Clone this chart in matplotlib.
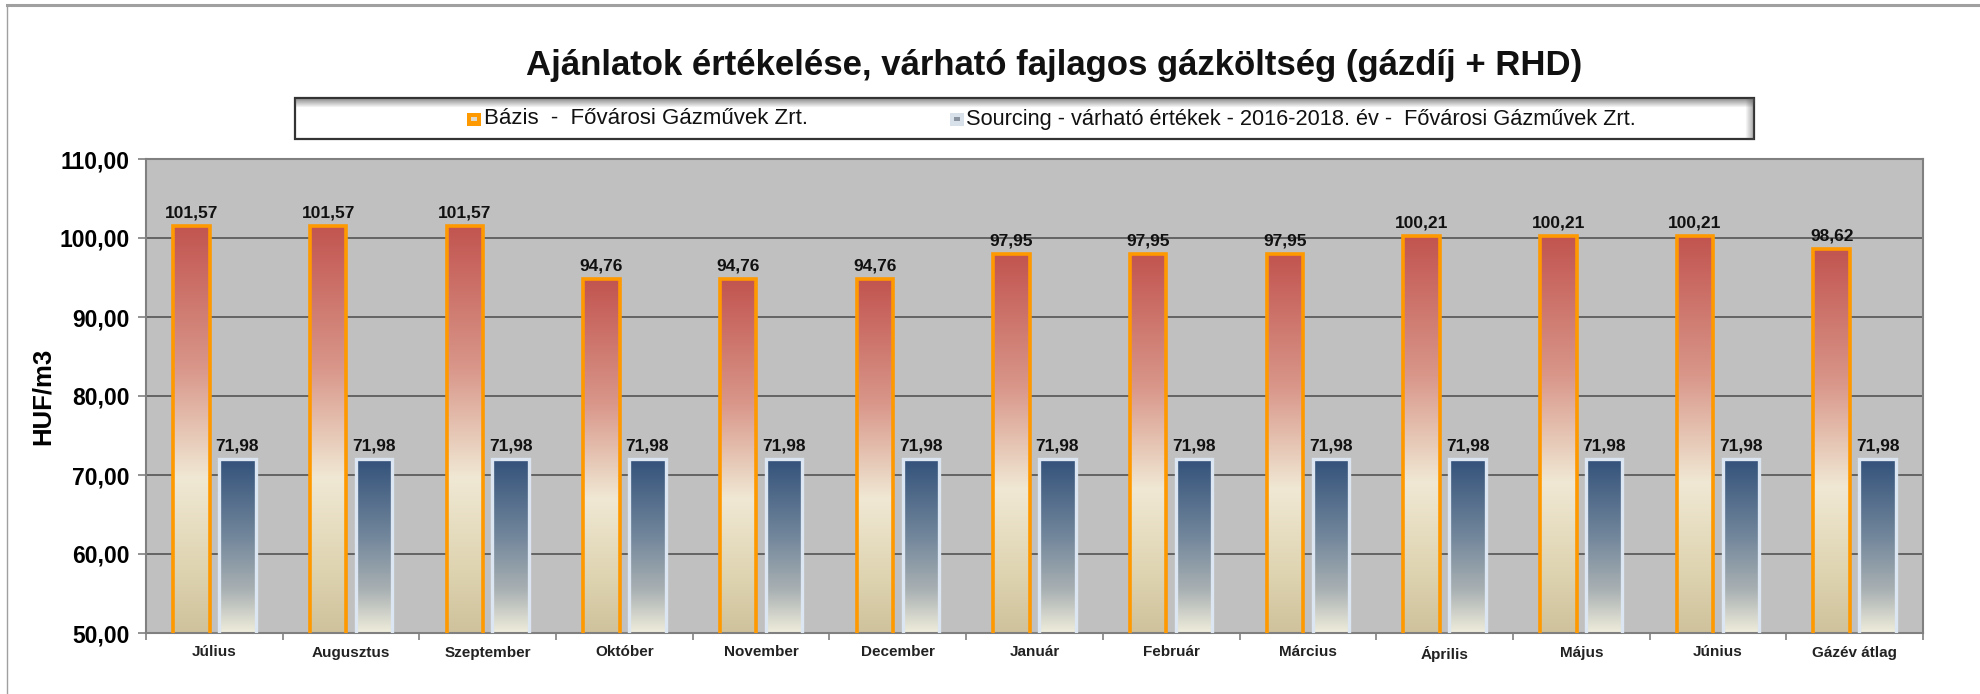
import numpy as np
import matplotlib
matplotlib.use("Agg")
import matplotlib.pyplot as plt
from matplotlib.colors import LinearSegmentedColormap
from matplotlib.patches import Rectangle
from matplotlib.lines import Line2D

# adatok
honapok = ["Július", "Augusztus", "Szeptember", "Október", "November", "December",
           "Január", "Február", "Március", "Április", "Május", "Június", "Gázév átlag"]
bazis = [101.57, 101.57, 101.57, 94.76, 94.76, 94.76, 97.95, 97.95, 97.95,
         100.21, 100.21, 100.21, 98.62]
sourcing = [71.98, 71.98, 71.98, 71.98, 71.98, 71.98, 71.98, 71.98, 71.98,
            71.98, 71.98, 71.98, 71.98]
y_ticks = [50, 60, 70, 80, 90, 100, 110]

cim = "Ajánlatok értékelése, várható fajlagos gázköltség (gázdíj + RHD)"
leg_bazis = "Bázis  -  Fővárosi Gázművek Zrt."
leg_sourcing = "Sourcing - várható értékek - 2016-2018. év -  Fővárosi Gázművek Zrt."

plt.rcParams["font.family"] = ["Liberation Sans", "DejaVu Sans"]

W, H = 1981, 694
fig = plt.figure(figsize=(W / 100, H / 100), dpi=100)
fig.patch.set_facecolor("white")


def fx(px):
    return px / W


def fy(py):
    return 1 - py / H


ax_top, ax_bot = 159, 633
ax = fig.add_axes([fx(146), fy(ax_bot), fx(1923) - fx(146), fy(ax_top) - fy(ax_bot)])
ax.set_facecolor("#c0c0c0")

# szinatmenetek (felulrol lefele)
cm_bazis = LinearSegmentedColormap.from_list("bazis", [
    (0.0, (0.76, 0.33, 0.31)),
    (0.35, (0.85, 0.59, 0.54)),
    (0.62, (0.94, 0.91, 0.83)),
    (0.85, (0.87, 0.83, 0.69)),
    (1.0, (0.81, 0.76, 0.61))])
cm_sourcing = LinearSegmentedColormap.from_list("sourcing", [
    (0.0, (0.20, 0.32, 0.48)),
    (0.45, (0.45, 0.53, 0.61)),
    (0.75, (0.66, 0.69, 0.70)),
    (1.0, (0.94, 0.93, 0.86))])
grad = np.linspace(0, 1, 256).reshape(-1, 1)

x = np.arange(len(honapok))
w = 0.267
off = 0.168
ymin, ymax = 50, 110

for i in range(len(honapok)):
    for val, dx, cm in ((bazis[i], -off, cm_bazis), (sourcing[i], off, cm_sourcing)):
        x0 = x[i] + dx - w / 2
        ax.imshow(grad, cmap=cm, extent=[x0, x0 + w, ymin, val], aspect="auto",
                  origin="upper", zorder=2, interpolation="bicubic")

ax.bar(x - off, bazis, width=w, fill=False, edgecolor="#ff9900", linewidth=2.6, zorder=3)
ax.bar(x + off, sourcing, width=w, fill=False, edgecolor="#dce6f2", linewidth=2.4, zorder=3)

for i in range(len(honapok)):
    for val, dx in ((bazis[i], -off), (sourcing[i], off)):
        ax.annotate(f"{val:.2f}".replace(".", ","), (x[i] + dx, val), xytext=(0, 4),
                    textcoords="offset points", ha="center", va="bottom",
                    fontsize=12.5, fontweight="bold", color="#111111", zorder=4)

ax.set_xlim(-0.5, len(honapok) - 0.5)
ax.set_ylim(ymin, ymax)
ax.set_yticks(y_ticks)
ax.set_yticklabels([f"{v:.2f}".replace(".", ",") for v in y_ticks],
                   fontsize=16.5, fontweight="bold")
ax.yaxis.grid(True, color="#555555", linewidth=1.2, zorder=1)
ax.set_axisbelow(True)

ax.set_xticks(x)
ax.set_xticklabels(honapok, fontsize=11, fontweight="bold", color="#222222")
ax.set_xticks(np.arange(len(honapok) + 1) - 0.5, minor=True)
ax.tick_params(axis="x", which="major", length=0, pad=9)
ax.tick_params(axis="x", which="minor", length=5, color="#808080", width=1.2)
ax.tick_params(axis="y", length=6, color="#808080", width=1.2, pad=6)

for s in ax.spines.values():
    s.set_color("#808080")
    s.set_linewidth(1.5)

ax.set_ylabel("HUF/m3", fontsize=18.5, fontweight="bold", va="center")
ax.yaxis.set_label_coords(fx(43), 0.5 * (fy(ax_top) + fy(ax_bot)), transform=fig.transFigure)

# cim
fig.text(fx(1054), fy(66), cim, ha="center", va="center", fontsize=25, fontweight="bold",
         color="#111111")

# jelmagyarazat doboz
lx0, lx1, ly0, ly1 = 295, 1754, 98, 139
fig.patches.append(Rectangle((fx(lx0), fy(ly1)), fx(lx1) - fx(lx0), fy(ly0) - fy(ly1),
                             transform=fig.transFigure, facecolor="white", edgecolor="none"))
# belso arnyek fent es jobbra
for k in range(8):
    a = 0.55 * (1 - k / 8)
    fig.add_artist(Line2D([fx(lx0), fx(lx1)], [fy(ly0 + 1 + k), fy(ly0 + 1 + k)],
                          color="#505050", alpha=a, linewidth=0.8))
    fig.add_artist(Line2D([fx(lx1 - 1 - k), fx(lx1 - 1 - k)], [fy(ly0), fy(ly1)],
                          color="#505050", alpha=a * 0.8, linewidth=0.8))
fig.patches.append(Rectangle((fx(lx0), fy(ly1)), fx(lx1) - fx(lx0), fy(ly0) - fy(ly1),
                             transform=fig.transFigure, facecolor="none", edgecolor="#333333",
                             linewidth=1.6))
fig.patches.append(Rectangle((fx(467), fy(126)), fx(14), fy(0) - fy(13), transform=fig.transFigure,
                             facecolor="#ff9900", edgecolor="none"))
fig.patches.append(Rectangle((fx(471), fy(121)), fx(6), fy(0) - fy(4), transform=fig.transFigure,
                             facecolor="#e0d8c8", edgecolor="none"))
fig.patches.append(Rectangle((fx(950), fy(126)), fx(14), fy(0) - fy(13), transform=fig.transFigure,
                             facecolor="#d8e0ea", edgecolor="none"))
fig.patches.append(Rectangle((fx(954), fy(121)), fx(6), fy(0) - fy(4), transform=fig.transFigure,
                             facecolor="#8a94a0", edgecolor="none"))
fig.text(fx(484), fy(119), leg_bazis, ha="left", va="center", fontsize=16, color="#111111")
fig.text(fx(966), fy(119), leg_sourcing, ha="left", va="center", fontsize=15.7, color="#111111")

# kulso keret
fig.add_artist(Line2D([fx(7), fx(W)], [fy(5), fy(5)], color="#a0a0a0", linewidth=2.2))
fig.add_artist(Line2D([fx(7), fx(7)], [fy(5), fy(H)], color="#a0a0a0", linewidth=1.0))

fig.savefig("out.png", dpi=100, facecolor="white")
